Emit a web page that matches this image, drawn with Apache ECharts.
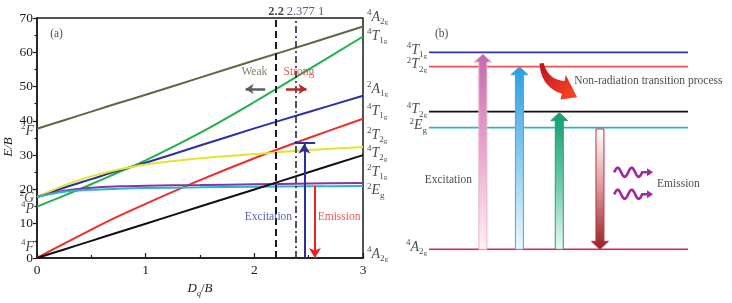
<!DOCTYPE html>
<html>
<head>
<meta charset="utf-8">
<script src="https://cdn.jsdelivr.net/npm/echarts@6/dist/echarts.min.js"></script>
<style>
  html, body { margin: 0; background: #fff; }
  #chart { width: 732px; height: 303px; }
</style>
</head>
<body>
<div id="chart"></div>
<script>
// ---- panel (a): Tanabe-Sugano curves, E/B against Dq/B
const dq = [0, 0.25, 0.5, 0.75, 1, 1.5, 2, 2.5, 3];
const eA2gHigh = [37.7, 40.2, 42.7, 45.2, 47.6, 52.6, 57.6, 62.5, 67.5];
const eT1gHigh = [15, 18.2, 21.5, 25, 28.5, 36.5, 45.5, 55, 64.6];
const eA1g = [17.8, 20.5, 23, 25.5, 27.8, 32.8, 37.8, 42.6, 47.3];
const eT1gLow = [0, 4.2, 8.3, 12.2, 15.8, 22.7, 29.1, 35, 40.6];
const eT2gDoublet = [17.8, 21.2, 23.8, 25.8, 27.3, 29.1, 30.3, 31.5, 32.4];
const eT2gQuartet = [0, 2.5, 5, 7.5, 10, 15, 20, 25, 30];
const eT1gDoublet = [17.8, 19.6, 20.5, 20.9, 21.1, 21.3, 21.5, 21.7, 21.9];
const eEg = [17.8, 19.3, 19.9, 20.2, 20.4, 20.6, 20.8, 20.9, 21.0];

const rightTerms = ['4A2g', '4T1g', '2A1g', '4T1g', '2T2g', '4T2g', '2T1g', '2Eg', '4A2g'];
const rightTermE = [70.3, 64.8, 49.3, 42.7, 35.7, 30.5, 25.1, 19.6, 1.2];
const leftTerms = ['2F', '2G', '4P', '4F'];
const leftTermE = [36.9, 17.4, 14.2, 3.2];

const dqWeak = 2.2;
const dqCrystal = 2.3771;

// ---- panel (b): energy levels (relative heights)
const levelTerms = ['4T1g', '2T2g', '4T2g', '2Eg', '4A2g'];
const levelE = [19.7, 18.26, 13.76, 12.16, 0];
const levelColors = ['#3234a8', '#f25050', '#111111', '#2bb8c2', '#e0206a'];

// pump / emission arrows
const pumpX = [20.8, 34.9, 50.3, 66];
const pumpFrom = [0, 0, 0, 12.03];
const pumpTo = [19.53, 18.26, 13.66, 0];

const SERIF = '"Liberation Serif", "DejaVu Serif", serif';
const INK = '#1a1a1a';

function term(name) {
  const m = name[0], L = name[1], s = name.slice(2);
  let t = '{sup|' + m + '}{it|' + L + '}';
  if (s.length > 1) t += '{sub|' + s[0] + '}{subg|' + s.slice(1) + '}';
  else if (s.length) t += '{sub|' + s + '}';
  return t;
}

const rich = {
  sup: { fontFamily: SERIF, fontSize: 9, verticalAlign: 'top', lineHeight: 10, color: INK },
  it: { fontFamily: SERIF, fontStyle: 'italic', fontSize: 14, lineHeight: 18, color: INK },
  sub: { fontFamily: SERIF, fontSize: 9, verticalAlign: 'bottom', lineHeight: 9, color: INK },
  subg: { fontFamily: SERIF, fontSize: 7, verticalAlign: 'bottom', lineHeight: 6, color: INK }
};

const zip = (xs, ys) => xs.map((x, i) => [x, ys[i]]);

function curve(vals, color) {
  return {
    type: 'line', xAxisIndex: 0, yAxisIndex: 0,
    data: zip(dq, vals), smooth: 0.35, showSymbol: false,
    lineStyle: { color, width: 2 }, z: 3
  };
}

const pumpStyles = [
  { stops: [{ offset: 0, color: '#c06aae' }, { offset: 0.5, color: '#e8a8d0' }, { offset: 1, color: '#fff2f5' }], stroke: '#f0b0c4' },
  { stops: [{ offset: 0, color: '#2a9ede' }, { offset: 0.5, color: '#8ccbee' }, { offset: 1, color: '#eef8fd' }], stroke: '#44a6e0' },
  { stops: [{ offset: 0, color: '#0f9e6c' }, { offset: 0.5, color: '#6cc8a4' }, { offset: 1, color: '#eef9f4' }], stroke: '#1aa676' },
  { stops: [{ offset: 0, color: '#ffffff' }, { offset: 0.45, color: '#e0a0a4' }, { offset: 1, color: '#951f26' }], stroke: '#c0343c' }
];

function renderPump(params, api) {
  const x = api.value(0), y0 = api.value(1), y1 = api.value(2), k = api.value(3);
  const a = api.coord([x, y0]), b = api.coord([x, y1]);
  const s = b[1] < a[1] ? 1 : -1;
  const hw = 4, HW = 8.5, hl = 8;
  const cx = a[0], hb = b[1] + s * hl;
  const pts = [[cx - hw, a[1]], [cx - hw, hb], [cx - HW, hb], [cx, b[1]], [cx + HW, hb], [cx + hw, hb], [cx + hw, a[1]]];
  const st = pumpStyles[k];
  return {
    type: 'polygon', shape: { points: pts },
    style: { fill: new echarts.graphic.LinearGradient(0, 0, 0, 1, st.stops), stroke: st.stroke, lineWidth: 1 }
  };
}

// curved "non-radiation" arrow: [startX, startY, tipX, tipY]
const relax = [[43.5, 18.6, 57.2, 15.2]];
function renderRelax(params, api) {
  const S = api.coord([api.value(0), api.value(1)]);
  const T = api.coord([api.value(2), api.value(3)]);
  const B = [T[0] - 14, T[1] - 10];
  const C = [S[0] + 3, S[1] + 20];
  const n = 16, L = [], R = [];
  let nx = 0, ny = 0;
  for (let i = 0; i <= n; i++) {
    const t = i / n, u = 1 - t;
    const px = u * u * S[0] + 2 * u * t * C[0] + t * t * B[0];
    const py = u * u * S[1] + 2 * u * t * C[1] + t * t * B[1];
    const dx = 2 * u * (C[0] - S[0]) + 2 * t * (B[0] - C[0]);
    const dy = 2 * u * (C[1] - S[1]) + 2 * t * (B[1] - C[1]);
    const d = Math.hypot(dx, dy);
    nx = -dy / d; ny = dx / d;
    const w = 2 + 4.5 * t;
    L.push([px + nx * w, py + ny * w]);
    R.push([px - nx * w, py - ny * w]);
  }
  const hw = 12.5;
  const pts = L.concat([[B[0] + nx * hw, B[1] + ny * hw], T, [B[0] - nx * hw, B[1] - ny * hw]], R.reverse());
  return {
    type: 'polygon', shape: { points: pts },
    style: {
      fill: new echarts.graphic.LinearGradient(0, 0, 1, 1, [
        { offset: 0, color: '#c0101c' }, { offset: 1, color: '#ff4a26' }
      ])
    }
  };
}

// wavy emission photons: [x0, x1, y]
const photons = [[71.5, 86.5, 7.7], [71.5, 86.5, 5.5]];
function renderPhoton(params, api) {
  const a = api.coord([api.value(0), api.value(2)]);
  const b = api.coord([api.value(1), api.value(2)]);
  const len = b[0] - a[0], waveLen = len * 0.72, amp = 4.5;
  const pts = [];
  for (let i = 0; i <= 40; i++) {
    const t = i / 40;
    pts.push([a[0] + t * waveLen, a[1] - amp * Math.sin(t * 4 * Math.PI)]);
  }
  const headBase = b[0] - 6;
  pts.push([headBase, a[1]]);
  return {
    type: 'group',
    children: [
      { type: 'polyline', shape: { points: pts }, style: { stroke: '#a3279e', lineWidth: 2.6, fill: null } },
      { type: 'polygon', shape: { points: [[headBase, a[1] - 4], [b[0], a[1]], [headBase, a[1] + 4]] }, style: { fill: '#a3279e' } }
    ]
  };
}

function notes(items, xi, yi) {
  return {
    type: 'scatter', xAxisIndex: xi, yAxisIndex: yi, clip: false, silent: true,
    symbolSize: 0, z: 6,
    data: items.map(d => ({
      name: d[2], value: [d[0], d[1]],
      label: Object.assign({ color: d[3] || INK }, d[4] || {})
    })),
    label: { show: true, position: 'inside', formatter: '{b}', fontFamily: SERIF, fontSize: 11.5 }
  };
}

const chart = echarts.init(document.getElementById('chart'), null, { renderer: 'canvas' });

const axisText = { fontFamily: SERIF, fontSize: 13.5, color: INK };

const option = {
  animation: false,
  backgroundColor: '#fff',
  grid: [
    { left: 37, top: 18, width: 326, height: 243, show: true, borderColor: INK, borderWidth: 1.5, backgroundColor: 'transparent' },
    { left: 429, top: 49.3, width: 259, height: 200, show: false }
  ],
  xAxis: [
    {
      gridIndex: 0, type: 'value', min: 0, max: 3, interval: 1,
      axisLine: { lineStyle: { color: INK, width: 1.5 } },
      axisTick: { inside: true, length: 5, lineStyle: { color: INK, width: 1.2 } },
      minorTick: { show: true, splitNumber: 2, length: 3, lineStyle: { color: INK, width: 1.2 } },
      splitLine: { show: false },
      axisLabel: Object.assign({ margin: 5 }, axisText),
      name: '{it|D}{q|q}{n|/}{it|B}', nameLocation: 'middle', nameGap: 22,
      nameTextStyle: {
        rich: {
          it: { fontFamily: SERIF, fontStyle: 'italic', fontSize: 13, lineHeight: 18, color: INK },
          q: { fontFamily: SERIF, fontStyle: 'italic', fontSize: 8, verticalAlign: 'bottom', lineHeight: 9, color: INK },
          n: { fontFamily: SERIF, fontSize: 13, lineHeight: 18, color: INK }
        }
      }
    },
    { gridIndex: 1, type: 'value', min: 0, max: 100, show: false }
  ],
  yAxis: [
    {
      gridIndex: 0, type: 'value', min: 0, max: 70, interval: 10,
      axisLine: { lineStyle: { color: INK, width: 1.5 } },
      axisTick: { inside: false, length: 4, lineStyle: { color: INK, width: 1.2 } },
      minorTick: { show: true, splitNumber: 2, length: 2.5, lineStyle: { color: INK, width: 1.2 } },
      splitLine: { show: false },
      axisLabel: Object.assign({ margin: 4 }, axisText),
      name: 'E/B', nameLocation: 'middle', nameGap: 22, nameRotate: 90,
      nameTextStyle: { fontFamily: SERIF, fontStyle: 'italic', fontSize: 13, color: INK, padding: [0, 0, 0, -18] }
    },
    { gridIndex: 1, type: 'value', min: 0, max: 20, show: false }
  ],
  series: [
    curve(eA2gHigh, '#5b6a45'),
    curve(eT1gHigh, '#1fb24c'),
    curve(eA1g, '#2d2fa8'),
    curve(eT1gLow, '#f22b2b'),
    curve(eT2gDoublet, '#e4e42c'),
    curve(eT1gDoublet, '#8a32a6'),
    curve(eEg, '#2bb6c4'),
    Object.assign(curve(eT2gQuartet, '#111111'), {
      markLine: {
        silent: true, symbol: 'none', animation: false,
        label: { show: false },
        data: [
          { xAxis: dqWeak, lineStyle: { color: INK, type: [7, 4], width: 2 } },
          { xAxis: dqCrystal, lineStyle: { color: '#2a2a40', type: [7, 3, 2, 3], width: 1.6 } },
          [{ coord: [2.10, 49.3], symbol: 'none', lineStyle: { color: '#5e5e5e', type: 'solid', width: 2.5 } },
           { coord: [1.92, 49.3], symbol: 'arrow', symbolSize: [8, 8] }],
          [{ coord: [2.29, 49.3], symbol: 'none', lineStyle: { color: '#b32a2a', type: 'solid', width: 2.5 } },
           { coord: [2.48, 49.3], symbol: 'arrow', symbolSize: [8, 8] }],
          [{ coord: [2.46, 0], symbol: 'none', lineStyle: { color: '#2d2fa0', type: 'solid', width: 2 } },
           { coord: [2.46, 33.4], symbol: 'arrow', symbolSize: [9, 10] }],
          [{ coord: [2.37, 33.7], symbol: 'none', lineStyle: { color: '#2d2fa0', type: 'solid', width: 2 } },
           { coord: [2.56, 33.7], symbol: 'none' }],
          [{ coord: [2.557, 21.0], symbol: 'none', lineStyle: { color: '#f02020', type: 'solid', width: 2 } },
           { coord: [2.557, 0], symbol: 'arrow', symbolSize: [9, 10] }]
        ]
      }
    }),
    // term symbols on the right edge of (a)
    {
      type: 'scatter', xAxisIndex: 0, yAxisIndex: 0, clip: false, silent: true, symbolSize: 0,
      data: rightTerms.map((t, i) => ({ name: t, value: [3, rightTermE[i]] })),
      label: { show: true, position: 'right', distance: 4, formatter: p => term(p.name), rich }
    },
    // free-ion terms on the left edge of (a)
    {
      type: 'scatter', xAxisIndex: 0, yAxisIndex: 0, clip: false, silent: true, symbolSize: 0,
      data: leftTerms.map((t, i) => ({ name: t, value: [0, leftTermE[i]] })),
      label: { show: true, position: 'left', distance: 3, formatter: p => term(p.name), rich }
    },
    notes([
      [0.18, 65.4, '(a)'],
      [dqWeak, 71.8, '2.2', INK, { fontSize: 12.5, fontWeight: 'bold' }],
      [2.47, 71.8, '2.377 1', '#33334a', { fontSize: 12.5 }],
      [2.0, 54.3, 'Weak', '#5a6848'],
      [2.41, 54.3, 'Strong', '#e23232'],
      [2.13, 12.1, 'Excitation', '#3436b0'],
      [2.78, 12.1, 'Emission', '#f02828']
    ], 0, 0),

    // ---- panel (b)
    ...levelTerms.map((t, i) => ({
      type: 'line', xAxisIndex: 1, yAxisIndex: 1, showSymbol: false, silent: true,
      data: [[0, levelE[i]], [100, levelE[i]]],
      lineStyle: { color: levelColors[i], width: 1.8 }, z: 2
    })),
    {
      type: 'scatter', xAxisIndex: 1, yAxisIndex: 1, clip: false, silent: true, symbolSize: 0,
      data: levelTerms.map((t, i) => ({ name: t, value: [0, levelE[i]] })),
      label: { show: true, position: 'left', distance: 2, offset: [0, -2], formatter: p => term(p.name), rich }
    },
    {
      type: 'custom', xAxisIndex: 1, yAxisIndex: 1, silent: true, z: 4,
      renderItem: renderPump,
      data: pumpX.map((x, i) => [x, pumpFrom[i], pumpTo[i], i])
    },
    {
      type: 'custom', xAxisIndex: 1, yAxisIndex: 1, silent: true, z: 4,
      renderItem: renderRelax, data: relax
    },
    {
      type: 'custom', xAxisIndex: 1, yAxisIndex: 1, silent: true, z: 4,
      renderItem: renderPhoton, data: photons
    },
    notes([
      [4.9, 21.5, '(b)'],
      [84.7, 16.86, 'Non-radiation transition process'],
      [7.45, 6.93, 'Excitation'],
      [96.3, 6.53, 'Emission']
    ], 1, 1)
  ]
};

chart.setOption(option);
</script>
</body>
</html>
